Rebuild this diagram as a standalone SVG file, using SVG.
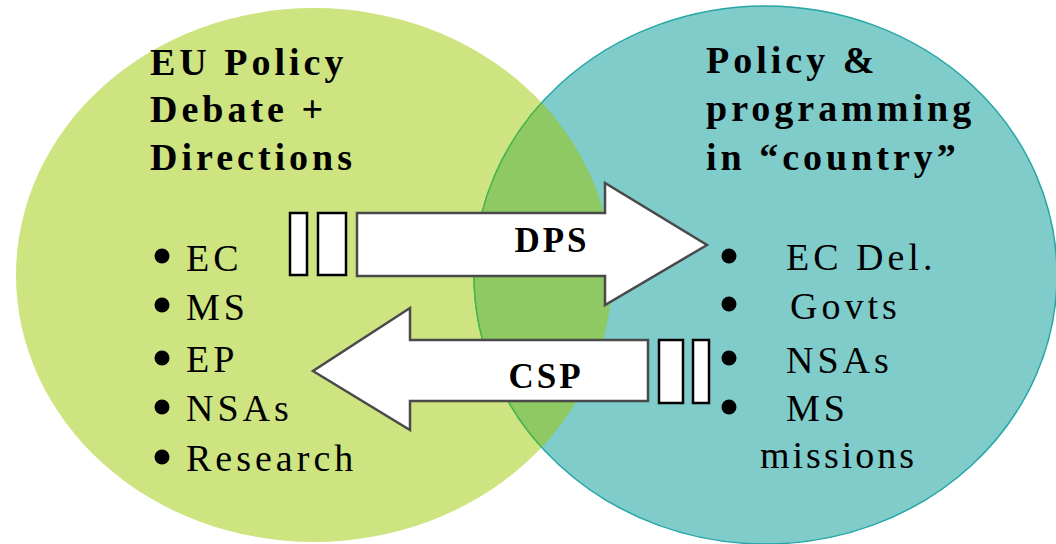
<svg xmlns="http://www.w3.org/2000/svg" width="1056" height="544" viewBox="0 0 1056 544">
<style>
text{font-family:'Liberation Serif','DejaVu Serif',serif;fill:#000}
.head{font-weight:bold;font-size:38px;letter-spacing:4px}
.item{font-size:38px;letter-spacing:4px}
.lbl{font-weight:bold;font-size:35px;letter-spacing:3px;text-anchor:middle}
.arrow{fill:#fff;stroke:#4a4a4a;stroke-width:2.5;stroke-linejoin:miter}
.bar{fill:#fff;stroke:#000;stroke-width:2.5}
.dot{fill:#000}
</style>
<defs>
<clipPath id="clipLeft"><ellipse cx="314" cy="275" rx="298" ry="267"/></clipPath>
</defs>
<rect width="1056" height="544" fill="#fff"/>
<g id="left-circle">
<ellipse cx="314" cy="275" rx="298" ry="267" fill="#CDE480"/>
</g>
<g id="right-circle">
<ellipse cx="765.5" cy="275" rx="291.5" ry="269" fill="#7FCCCB" stroke="#26A6A6" stroke-width="1.5"/>
</g>
<g id="overlap">
<ellipse cx="765.5" cy="275" rx="291.5" ry="269" fill="#8EC963" stroke="#4DB648" stroke-width="1.5" clip-path="url(#clipLeft)"/>
</g>
<g id="left-text" font-family="Liberation Serif, DejaVu Serif, serif">
<text class="head" x="150" y="75">EU Policy</text>
<text class="head" x="150" y="122">Debate +</text>
<text class="head" x="150" y="170">Directions</text>
<circle class="dot" cx="162" cy="256" r="7.5"/>
<circle class="dot" cx="162" cy="305" r="7.5"/>
<circle class="dot" cx="162" cy="358" r="7.5"/>
<circle class="dot" cx="162" cy="407" r="7.5"/>
<circle class="dot" cx="162" cy="457" r="7.5"/>
<text class="item" x="186" y="271">EC</text>
<text class="item" x="186" y="320">MS</text>
<text class="item" x="186" y="372">EP</text>
<text class="item" x="186" y="421">NSAs</text>
<text class="item" x="186" y="471">Research</text>
</g>
<g id="right-text" font-family="Liberation Serif, DejaVu Serif, serif">
<text class="head" x="706" y="73">Policy &amp;</text>
<text class="head" x="706" y="121">programming</text>
<text class="head" x="706" y="170">in “country”</text>
<circle class="dot" cx="729" cy="256" r="7.5"/>
<circle class="dot" cx="729" cy="304" r="7.5"/>
<circle class="dot" cx="729" cy="358" r="7.5"/>
<circle class="dot" cx="729" cy="407" r="7.5"/>
<text class="item" x="786" y="270">EC Del.</text>
<text class="item" x="790" y="319">Govts</text>
<text class="item" x="786" y="373">NSAs</text>
<text class="item" x="786" y="421">MS</text>
<text class="item" x="760" y="468" style="letter-spacing:3px">missions</text>
</g>
<g id="connectors" font-family="Liberation Serif, DejaVu Serif, serif">
<g id="dps-arrow">
<rect class="bar" x="290" y="213" width="17" height="62"/>
<rect class="bar" x="318" y="213" width="28" height="62"/>
<polygon class="arrow" points="357,213 605,213 605,183 707,245 605,305 605,276 357,276"/>
<text class="lbl" x="552" y="252">DPS</text>
</g>
<g id="csp-arrow">
<polygon class="arrow" points="648,340 410,340 410,308 313,371 410,430 410,401 648,401"/>
<rect class="bar" x="659" y="340" width="24" height="63"/>
<rect class="bar" x="693" y="340" width="16" height="63"/>
<text class="lbl" x="546" y="388">CSP</text>
</g>
</g>
</svg>
